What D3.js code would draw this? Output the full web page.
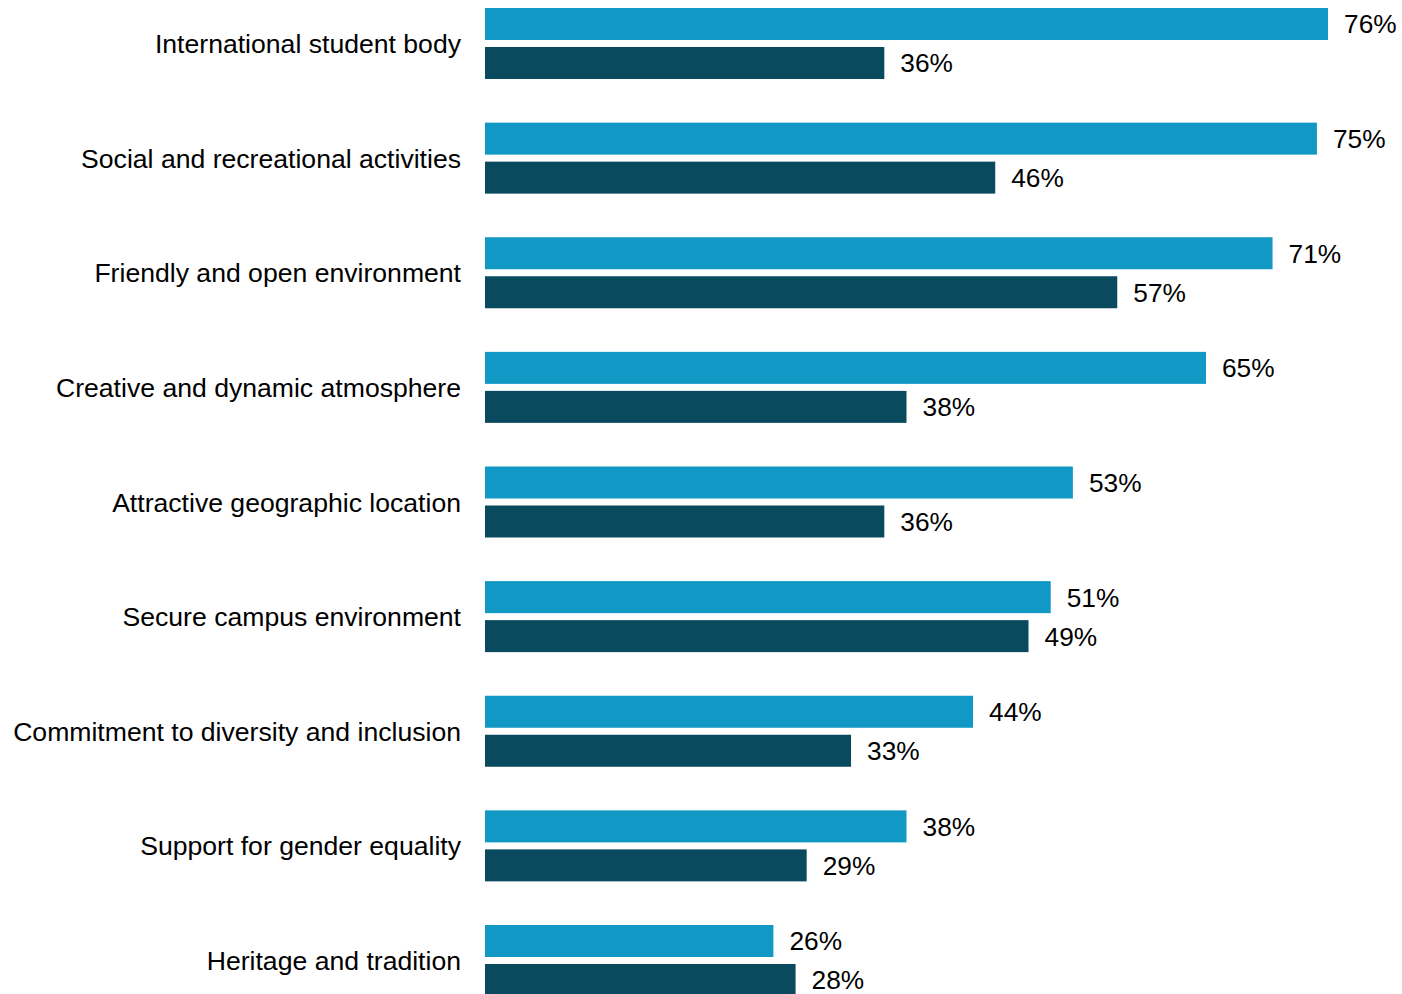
<!DOCTYPE html>
<html>
<head>
<meta charset="utf-8">
<script src="https://cdn.jsdelivr.net/npm/d3@7"></script>
<style>
  html, body { margin: 0; padding: 0; background: #ffffff; }
  svg { display: block; }
</style>
</head>
<body>
<script>
const categories = [
  "International student body",
  "Social and recreational activities",
  "Friendly and open environment",
  "Creative and dynamic atmosphere",
  "Attractive geographic location",
  "Secure campus environment",
  "Commitment to diversity and inclusion",
  "Support for gender equality",
  "Heritage and tradition"
];
const seriesNames = ["seriesA", "seriesB"];
const seriesA = [76, 75, 71, 65, 53, 51, 44, 38, 26];
const seriesB = [36, 46, 57, 38, 36, 49, 33, 29, 28];
const colors = ["#1198c4", "#0a4a5f"];

const W = 1402, H = 994;
const svg = d3.select("body").append("svg").attr("width", W).attr("height", H);

const x0 = 485;
const x = d3.scaleLinear().domain([0, 76]).range([x0, 1328]);
const groupStep = 114.625;
const y = d3.scaleBand().domain(categories).range([8, 8 + groupStep * categories.length]).padding(0);
const ySub = d3.scaleBand().domain(seriesNames).range([0, 71]).paddingInner(0.1795).paddingOuter(0);

const data = categories.map((c, i) => ({ cat: c, vals: [seriesA[i], seriesB[i]] }));

const g = svg.append("g");
const groups = g.selectAll("g.grp").data(data).join("g")
  .attr("class", "grp")
  .attr("transform", d => `translate(0,${y(d.cat)})`);

groups.selectAll("rect").data(d => d.vals.map((v, j) => ({ v, s: seriesNames[j], j })))
  .join("rect")
  .attr("x", x(0))
  .attr("y", d => ySub(d.s))
  .attr("width", d => x(d.v) - x(0))
  .attr("height", ySub.bandwidth())
  .attr("fill", d => colors[d.j]);

groups.selectAll("text.val").data(d => d.vals.map((v, j) => ({ v, s: seriesNames[j], j })))
  .join("text")
  .attr("class", "val")
  .attr("x", d => x(d.v) + 16)
  .attr("y", d => ySub(d.s) + ySub.bandwidth() / 2)
  .attr("dy", "0.36em")
  .attr("font-family", "Liberation Sans, Arial, sans-serif")
  .attr("font-size", 26.3)
  .attr("fill", "#000")
  .text(d => d.v + "%");

groups.append("text")
  .attr("x", 461)
  .attr("y", 35.5)
  .attr("dy", "0.36em")
  .attr("text-anchor", "end")
  .attr("font-family", "Liberation Sans, Arial, sans-serif")
  .attr("font-size", 26.6)
  .attr("fill", "#000")
  .text(d => d.cat);
</script>
</body>
</html>
